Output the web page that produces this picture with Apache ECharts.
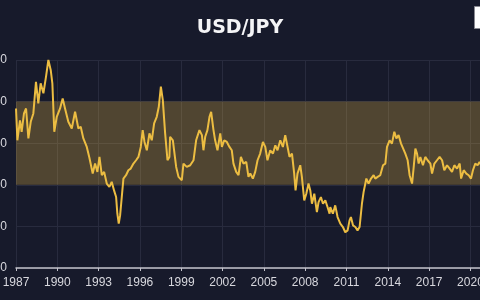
<!DOCTYPE html>
<html>
<head>
<meta charset="utf-8">
<script src="https://cdn.jsdelivr.net/npm/echarts@6/dist/echarts.min.js"></script>
<style>
html,body{margin:0;padding:0;background:#171a2b;overflow:hidden;}
#chart{width:480px;height:300px;}
</style>
</head>
<body>
<div id="chart"></div>
<script>
// Decimal-year positions of the traced points
const years = [
1987.0,1987.1,1987.29,1987.41,1987.58,1987.73,1987.9,1988.07,1988.26,1988.45,1988.62,1988.79,1988.99,
1989.18,1989.35,1989.52,1989.64,1989.78,1989.96,1990.2,1990.39,1990.56,1990.8,1991.05,1991.29,1991.53,
1991.7,1991.89,1992.14,1992.33,1992.57,1992.74,1992.91,1993.06,1993.23,1993.4,1993.59,1993.78,1993.95,
1994.12,1994.27,1994.36,1994.46,1994.56,1994.68,1994.8,1994.99,1995.16,1995.33,1995.53,1995.72,1995.89,
1996.06,1996.2,1996.33,1996.5,1996.69,1996.86,1997.03,1997.22,1997.37,1997.52,1997.66,1997.83,1998.0,
1998.14,1998.19,1998.39,1998.63,1998.8,1999.04,1999.16,1999.4,1999.65,1999.89,2000.08,2000.32,2000.5,
2000.61,2000.74,2000.9,2001.05,2001.17,2001.34,2001.46,2001.63,2001.83,2001.95,2002.12,2002.31,2002.5,
2002.67,2002.79,2002.99,2003.16,2003.33,2003.52,2003.72,2003.88,2004.01,2004.2,2004.37,2004.54,2004.73,
2004.93,2005.1,2005.26,2005.46,2005.66,2005.83,2005.99,2006.19,2006.38,2006.55,2006.72,2006.86,2007.04,
2007.2,2007.3,2007.44,2007.64,2007.76,2007.93,2008.08,2008.24,2008.37,2008.49,2008.66,2008.85,2008.97,
2009.14,2009.29,2009.46,2009.62,2009.77,2009.82,2010.01,2010.18,2010.35,2010.55,2010.74,2010.91,2011.08,
2011.22,2011.32,2011.47,2011.64,2011.8,2011.95,2012.12,2012.24,2012.44,2012.6,2012.78,2012.97,2013.09,
2013.26,2013.45,2013.65,2013.82,2013.94,2014.13,2014.3,2014.47,2014.62,2014.78,2014.96,2015.1,2015.27,
2015.44,2015.58,2015.76,2015.88,2016.0,2016.12,2016.24,2016.36,2016.55,2016.72,2016.89,2017.09,2017.21,
2017.38,2017.57,2017.76,2017.94,2018.1,2018.3,2018.49,2018.66,2018.83,2019.03,2019.22,2019.32,2019.51,
2019.7,2019.87,2020.04,2020.18,2020.35,2020.52,2020.66,2020.85
];
// USD/JPY rate at each point
const rates = [
136.7,121.4,131,125.5,134.3,136.7,122.3,130.3,134.3,149.5,139.1,148.8,144,
152,160,155.2,148.8,125.5,132.7,136.7,141.5,136.7,130.3,127.1,135.1,127.1,
127.9,122.3,118.2,113,105.4,110.2,106.2,113.4,104.6,106.2,100.6,99,101.4,
97.3,94.1,86.1,81.3,85.3,94.1,103,104.6,107,107.8,110.2,111.8,113.4,
118.2,126.3,120.6,116.6,124.7,121.4,129.5,132.7,137.5,147.2,140.7,124.7,111.8,
113.4,123.1,121.4,108.6,103.8,102.2,110.2,108.6,109.4,111.8,121.4,126.3,123.9,
116.6,123.1,126.3,132.7,135.1,126.3,121.4,116.6,124.7,118.2,121.4,120.6,118.2,
116.6,110.2,106.2,104.6,113.4,110.2,111,103.8,105.4,103,106.2,111.8,115,
120.6,118.2,111.8,116.6,115,119,116.6,121.4,118.2,123.9,118.2,113.4,115,
105.4,97.3,105.4,109.4,103.8,92.5,95.7,100.6,97.3,90.9,95.7,86.9,91.7,
94.1,90.9,92.5,89.3,86.1,89.3,86.1,90.1,84.5,81.3,79.7,77.2,78.1,
82.9,84.5,80.5,79.7,78.1,79.7,90.9,96.5,103,100.6,103,104.6,103,
103.8,104.6,109.4,110.2,118.2,121.4,119.8,125.5,122.3,123.9,119.8,120.6,115,
111.8,104.6,100.6,108.6,117.4,115,110.2,113.4,109.4,113.4,111.8,110.2,105.4,
110.2,111.8,113.4,111.8,107,109.4,107.8,106.2,109.4,107.8,110.2,103,107,
105.4,104.6,103,107,110.2,109.4,111,108.5
];
const title = 'USD/JPY';
const yTicks = [60, 80, 100, 120, 140, 160];
const xTickStart = 1987;
const xTickStep = 3;
const bandLow = 100;
const bandHigh = 140;

const chart = echarts.init(document.getElementById('chart'), null, {renderer: 'canvas'});
const seriesData = years.map((y, i) => [y, rates[i]]);
chart.setOption({
  backgroundColor: '#171a2b',
  animation: false,
  title: {
    text: title,
    left: 'center',
    top: 14,
    textStyle: {color: '#f4f4f6', fontSize: 19, fontWeight: 'bold', fontFamily: 'DejaVu Sans'}
  },
  graphic: [{
    type: 'rect',
    shape: {x: 474.5, y: 6.5, width: 20, height: 22},
    style: {fill: '#ffffff', stroke: '#8a8a92', lineWidth: 1}
  }],
  grid: {left: 16, right: -18, top: 60, bottom: 32, containLabel: false, outerBoundsMode: 'none'},
  xAxis: {
    type: 'value',
    min: xTickStart,
    max: 2022,
    interval: xTickStep,
    axisLine: {show: true, lineStyle: {color: '#c4c4cc', width: 1.5}},
    axisTick: {show: true, length: 3, lineStyle: {color: '#c4c4cc'}},
    axisLabel: {
      color: '#d8d8de', fontSize: 12, margin: 9, fontFamily: 'Liberation Sans',
      showMaxLabel: false,
      formatter: v => String(Math.round(v))
    },
    splitLine: {show: true, lineStyle: {color: '#282b3e', width: 1}}
  },
  yAxis: {
    type: 'value',
    min: yTicks[0],
    max: yTicks[yTicks.length - 1],
    interval: yTicks[1] - yTicks[0],
    axisLine: {show: false},
    axisTick: {show: false},
    axisLabel: {color: '#d8d8de', fontSize: 12, margin: 9, fontFamily: 'Liberation Sans'},
    splitLine: {show: true, lineStyle: {color: '#282b3e', width: 1}}
  },
  series: [{
    type: 'line',
    data: seriesData,
    showSymbol: false,
    lineStyle: {color: '#ecbd42', width: 2},
    itemStyle: {color: '#ecbd42'},
    z: 3,
    markArea: {
      silent: true,
      itemStyle: {color: 'rgba(236,189,66,0.27)'},
      data: [[{yAxis: bandLow}, {yAxis: bandHigh}]]
    }
  }]
});
</script>
</body>
</html>
